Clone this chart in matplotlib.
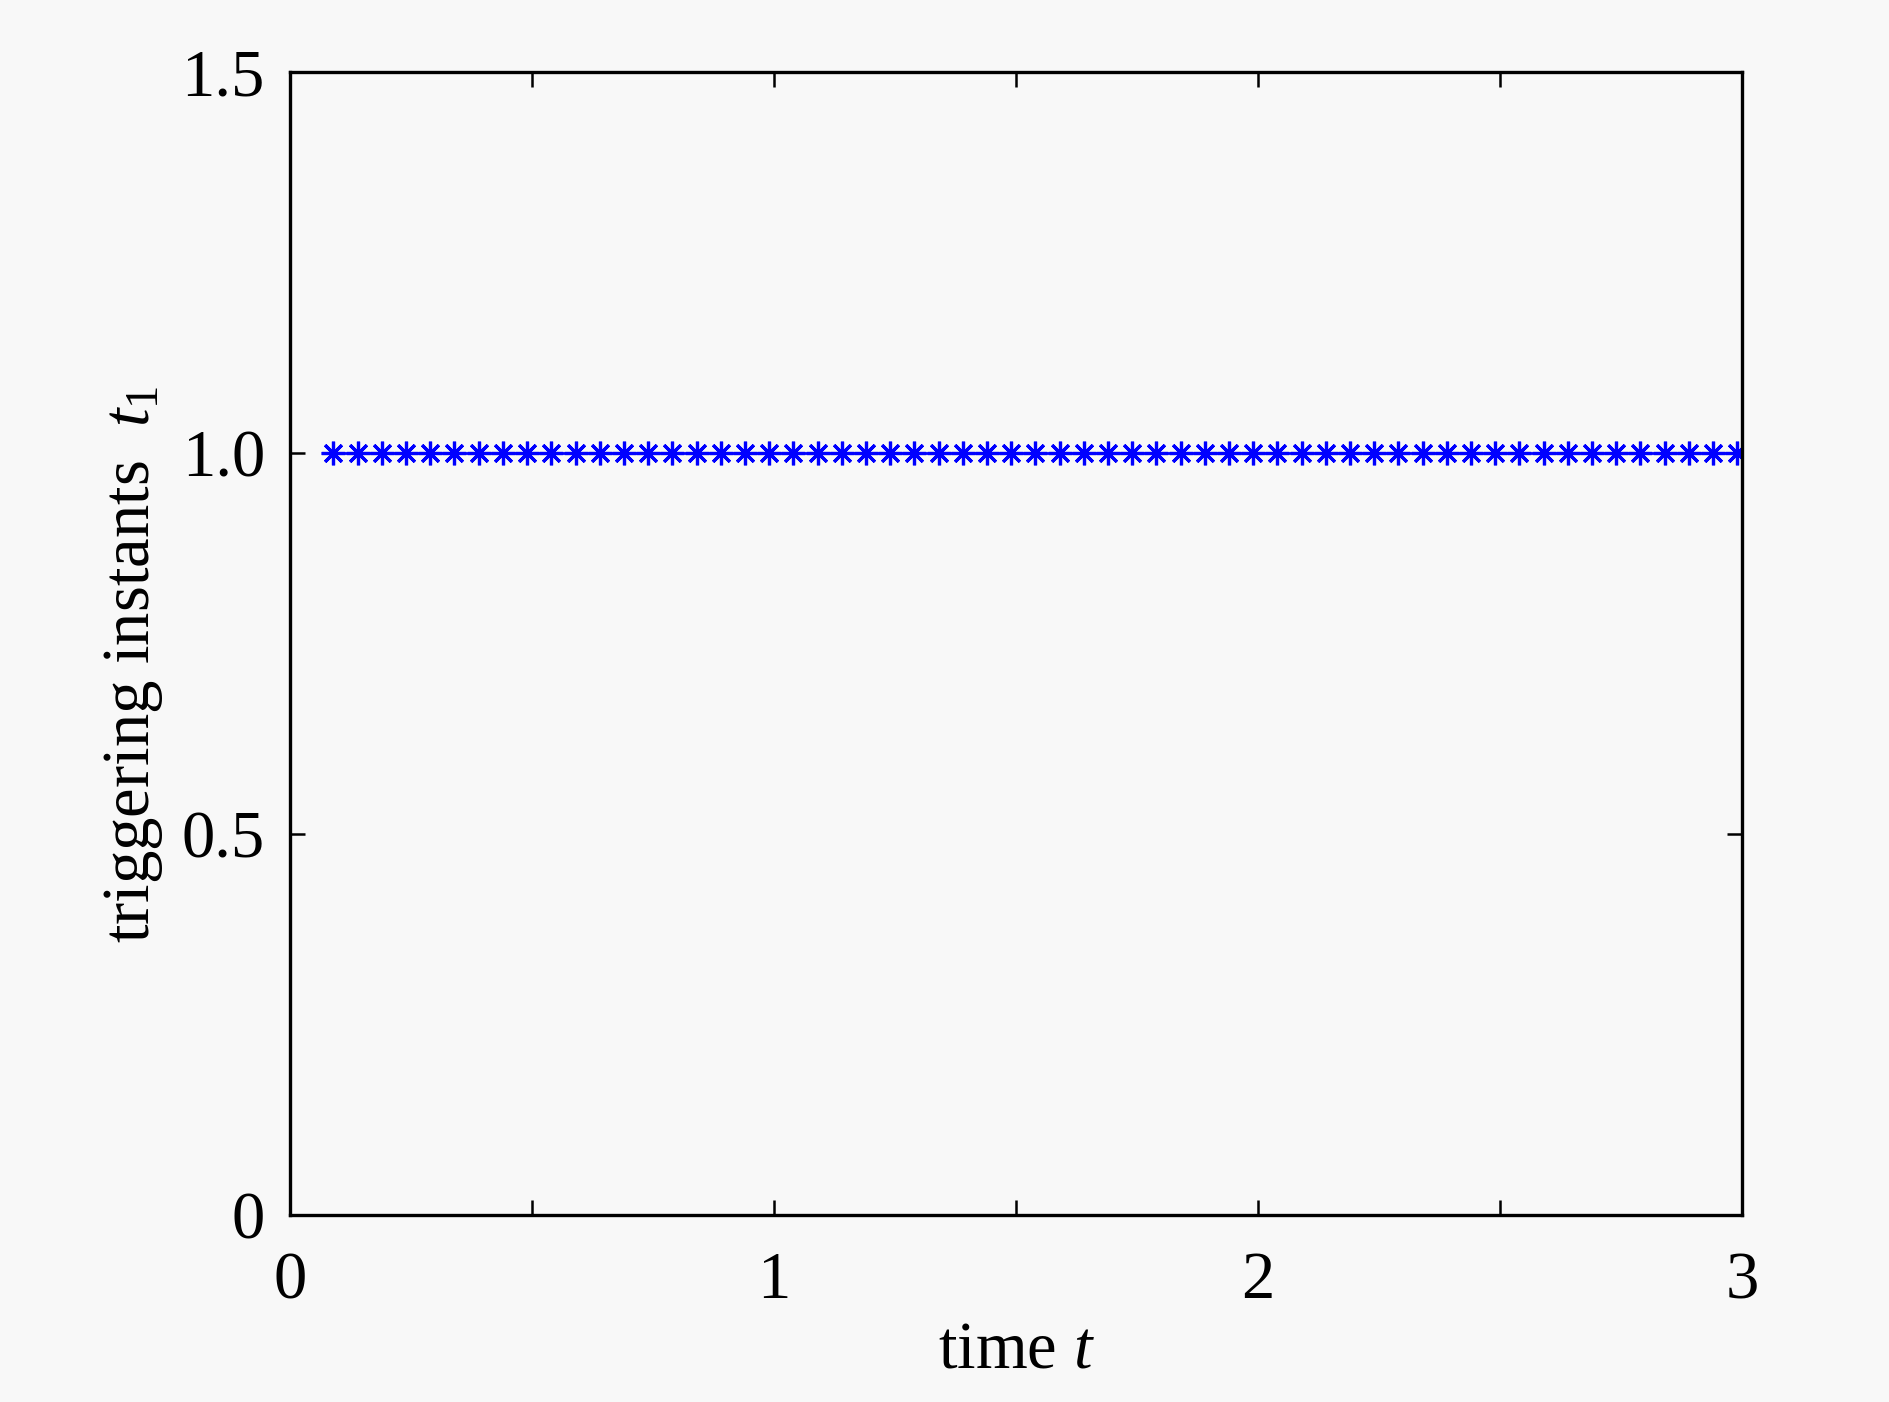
import matplotlib
matplotlib.use("Agg")
import matplotlib.pyplot as plt

# triggering instants
t_trig = [0.09, 0.14, 0.19, 0.24, 0.29, 0.34, 0.39, 0.44, 0.49, 0.54,
          0.59, 0.64, 0.69, 0.74, 0.79, 0.84, 0.89, 0.94, 0.99, 1.04,
          1.09, 1.14, 1.19, 1.24, 1.29, 1.34, 1.39, 1.44, 1.49, 1.54,
          1.59, 1.64, 1.69, 1.74, 1.79, 1.84, 1.89, 1.94, 1.99, 2.04,
          2.09, 2.14, 2.19, 2.24, 2.29, 2.34, 2.39, 2.44, 2.49, 2.54,
          2.59, 2.64, 2.69, 2.74, 2.79, 2.84, 2.89, 2.94, 2.99]
level = [1.0] * len(t_trig)

xticks = [0, 0.5, 1, 1.5, 2, 2.5, 3]
xticklabels = ["0", "", "1", "", "2", "", "3"]
yticks = [0, 0.5, 1.0, 1.5]
yticklabels = ["0", "0.5", "1.0", "1.5"]

plt.rcParams["font.family"] = ["Liberation Serif", "DejaVu Serif"]
plt.rcParams["mathtext.fontset"] = "custom"
plt.rcParams["mathtext.rm"] = "Liberation Serif"
plt.rcParams["mathtext.it"] = "Liberation Serif:italic"

bg = "#f8f8f8"
fig = plt.figure(figsize=(18.9, 14.02), dpi=100, facecolor=bg)
ax = fig.add_axes([0.1534, 0.1334, 0.7683, 0.8152], facecolor=bg)

ax.plot(t_trig, level, color="#0000ff", linewidth=1.8,
        marker=(8, 2, 0), markersize=17, markeredgewidth=2.3,
        markeredgecolor="#0000ff")

ax.set_xlim(0, 3)
ax.set_ylim(0, 1.5)
ax.set_xticks(xticks)
ax.set_xticklabels(xticklabels)
ax.set_yticks(yticks)
ax.set_yticklabels(yticklabels)

for s in ax.spines.values():
    s.set_linewidth(2.4)
ax.tick_params(direction="in", length=11, width=1.8, top=True, right=True,
               labelsize=48, colors="black")
ax.tick_params(axis="x", pad=26)
ax.tick_params(axis="y", pad=18)

ax.set_xlabel("time $t$", fontsize=48, labelpad=6)
ax.set_ylabel("triggering instants  $t_1$", fontsize=48)
ax.yaxis.set_label_coords(-0.086, 0.482)

fig.savefig("out.png", dpi=100, facecolor=bg)
